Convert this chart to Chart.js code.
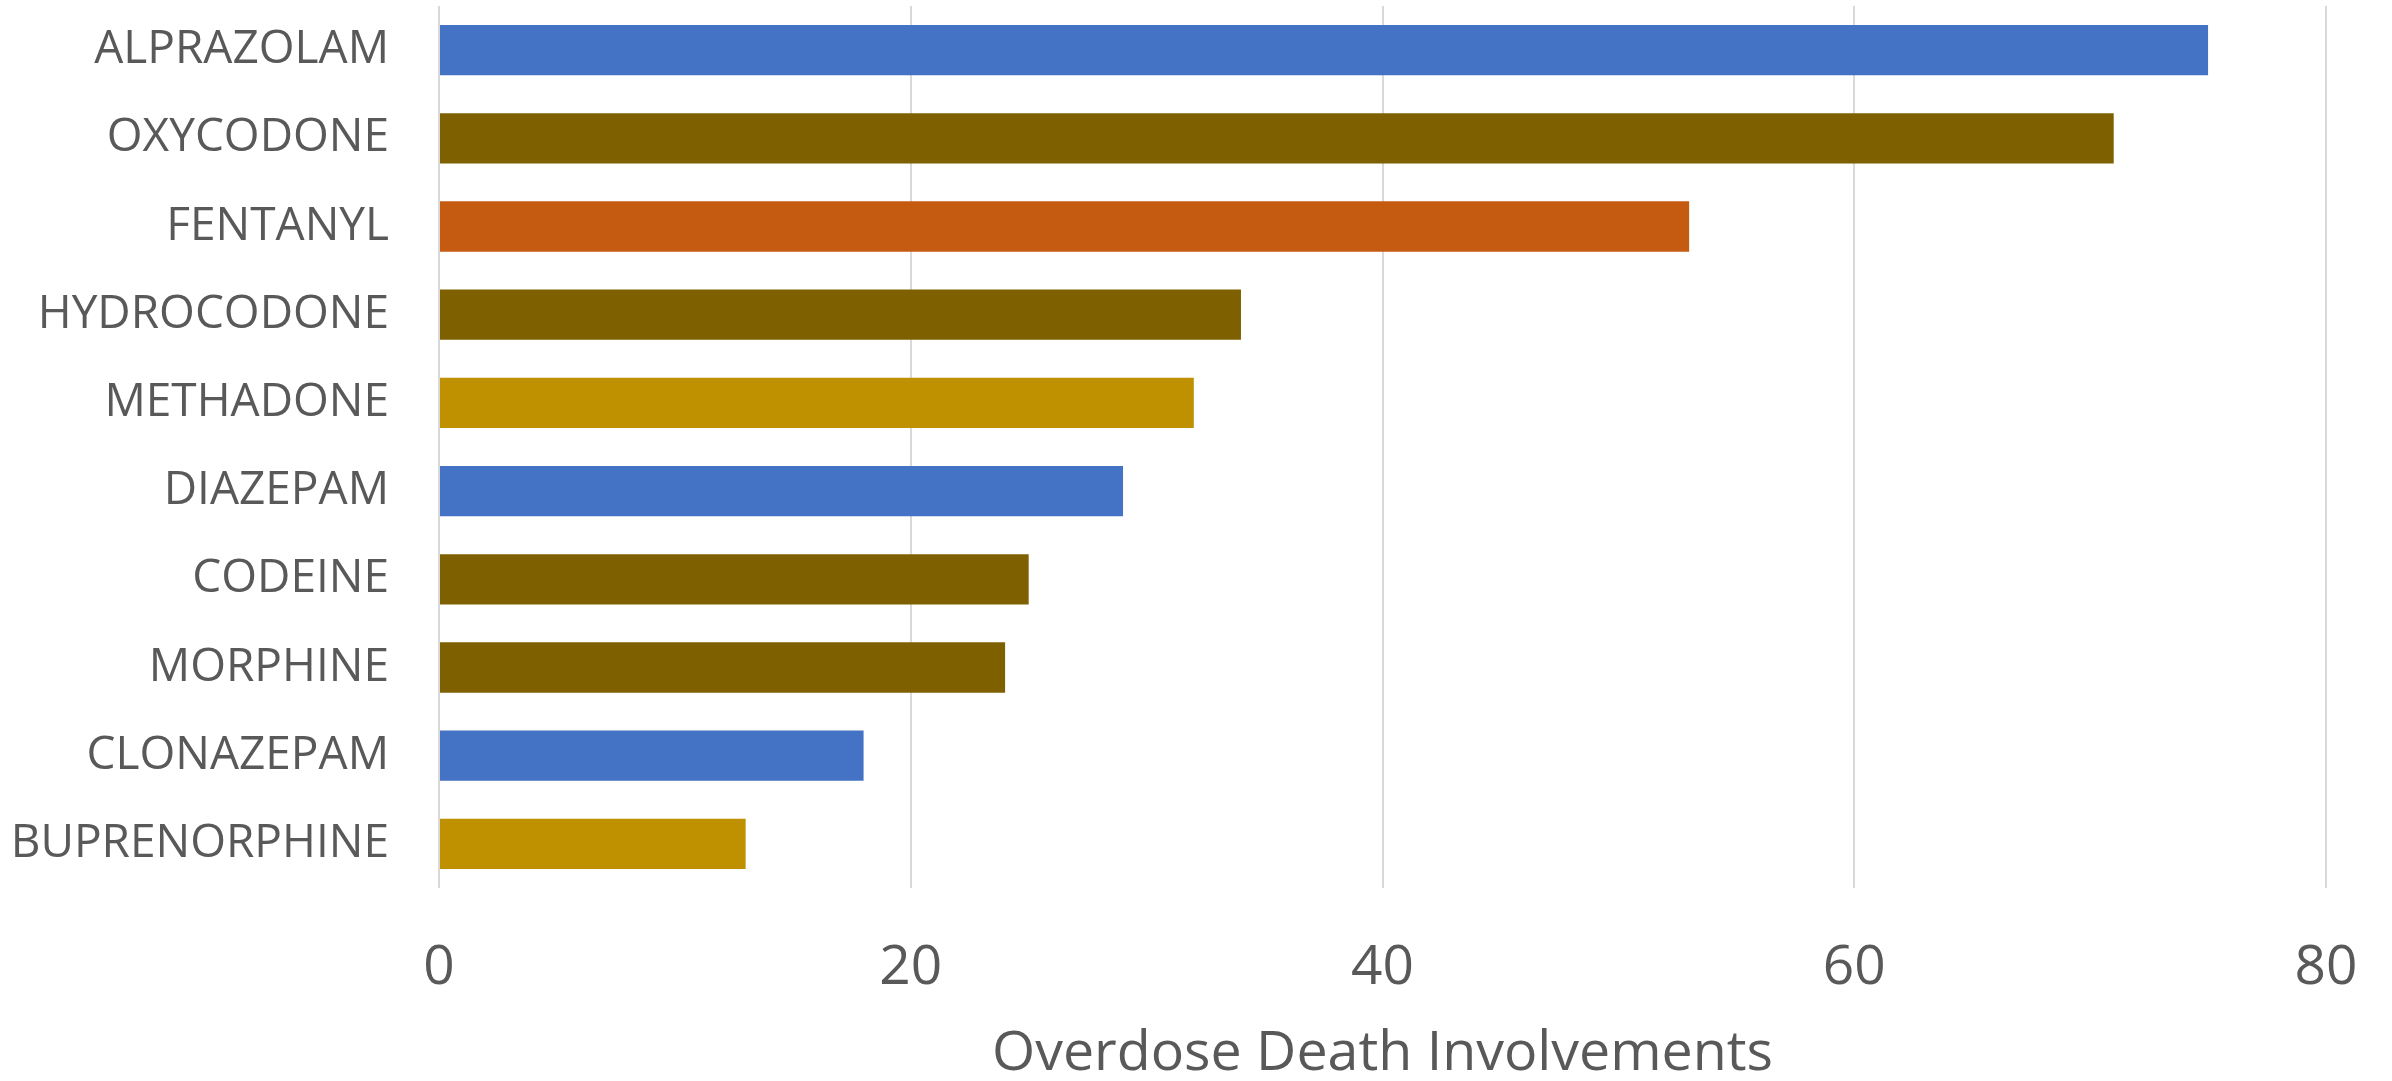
<!DOCTYPE html>
<html>
<head>
<meta charset="utf-8">
<script src="https://cdn.jsdelivr.net/npm/chart.js@4/dist/chart.umd.min.js"></script>
<style>
  html, body { margin: 0; padding: 0; background: #ffffff; }
  #wrap { width: 2392px; height: 1081px; position: relative; }
</style>
</head>
<body>
<div id="wrap"><canvas id="c" width="2392" height="1081"></canvas></div>
<script>
const categories = ["ALPRAZOLAM", "OXYCODONE", "FENTANYL", "HYDROCODONE", "METHADONE", "DIAZEPAM", "CODEINE", "MORPHINE", "CLONAZEPAM", "BUPRENORPHINE"];
const involvements = [75, 71, 53, 34, 32, 29, 25, 24, 18, 13];
const barColors = ["#4472C4", "#7F6000", "#C55A11", "#7F6000", "#BF9000", "#4472C4", "#7F6000", "#7F6000", "#4472C4", "#BF9000"];
const xTicks = [0, 20, 40, 60, 80];
const xAxisTitle = "Overdose Death Involvements";

const textColor = "#595959";
const fontFamily = "'Open Sans', 'Noto Sans', sans-serif";

new Chart(document.getElementById("c"), {
  type: "bar",
  data: {
    labels: categories,
    datasets: [{
      data: involvements,
      backgroundColor: barColors,
      borderWidth: 0,
      categoryPercentage: 1,
      barPercentage: 0.57
    }]
  },
  options: {
    indexAxis: "y",
    responsive: false,
    animation: false,
    devicePixelRatio: 1,
    layout: { padding: { top: 6, right: 66, bottom: 0, left: 0 } },
    plugins: { legend: { display: false }, tooltip: { enabled: false } },
    scales: {
      x: {
        min: 0, max: 80,
        afterBuildTicks: (axis) => { axis.ticks = xTicks.map(v => ({ value: v })); },
        grid: { color: "#D9D9D9", lineWidth: 2, drawTicks: false },
        border: { display: false },
        ticks: { color: textColor, font: { family: fontFamily, size: 55 }, padding: 47 },
        title: { display: true, text: xAxisTitle, color: textColor, font: { family: fontFamily, size: 55.5 }, padding: { top: 0, bottom: -6 } },
        afterFit: (axis) => { axis.height = 193; axis.paddingLeft = 0; axis.paddingRight = 0; }
      },
      y: {
        grid: { display: false, drawTicks: false },
        border: { display: false },
        ticks: { color: textColor, font: { family: fontFamily, size: 46 }, padding: 50 },
        afterFit: (axis) => { axis.width = 439; axis.paddingTop = 0; axis.paddingBottom = 0; }
      }
    }
  }
});
</script>
</body>
</html>
